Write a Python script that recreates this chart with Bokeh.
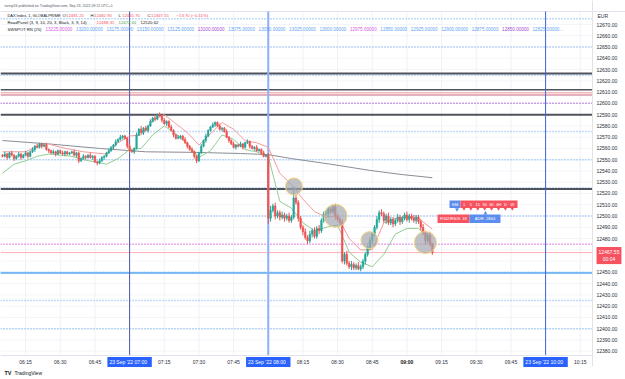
from bokeh.plotting import figure
from bokeh.models import (Range1d, FixedTicker, NumeralTickFormatter, Label, LinearAxis,
                          ColumnDataSource)
from bokeh.embed import file_html
from bokeh.resources import INLINE

# ---------------- data (1-minute DAX candles, minute index 0 = 06:05) ----------------
closes = [
    12553, 12555, 12552, 12556, 12554, 12551, 12553, 12555, 12552, 12554,
    12556, 12553, 12557, 12559, 12562, 12561, 12564, 12562, 12563, 12559,
    12558, 12556, 12557, 12555, 12558, 12556, 12555, 12557, 12555, 12556,
    12557, 12554, 12556, 12549, 12551, 12553, 12552, 12554, 12552, 12553,
    12548, 12547, 12549, 12552, 12553, 12556, 12558, 12561, 12563, 12566,
    12568, 12570, 12571, 12569, 12562, 12558, 12557, 12560, 12572, 12577,
    12574, 12578, 12576, 12580, 12584, 12587, 12586, 12590, 12589, 12585,
    12582, 12584, 12579, 12576, 12572, 12569, 12570, 12571, 12568, 12565,
    12562, 12559, 12557, 12553, 12549, 12556, 12562, 12567, 12571, 12576,
    12579, 12581, 12583, 12580, 12577, 12578, 12575, 12570, 12567, 12564,
    12561, 12563, 12562, 12564, 12561, 12565, 12566, 12562, 12560, 12561,
    12558, 12559, 12556, 12553, 12554, 12498, 12505, 12509, 12500, 12503,
    12499, 12501, 12498, 12500, 12496, 12499, 12516, 12512, 12498, 12490,
    12486, 12481, 12478, 12484, 12487, 12482, 12489, 12487, 12496, 12502,
    12502, 12506, 12504, 12508, 12500, 12497, 12494, 12460, 12466, 12458,
    12455, 12457, 12454, 12456, 12453, 12455, 12460, 12466, 12472, 12478,
    12484, 12490, 12497, 12503, 12502, 12496, 12500, 12494, 12497, 12493,
    12496, 12499, 12495, 12498, 12501, 12497, 12500, 12498, 12496, 12499,
    12495, 12490, 12485, 12478, 12483, 12475, 12467.55,
]
first_open = 12554
hi_ext = [
    1, 2, 1, 1, 2, 1, 1, 2, 1, 1,
    2, 1, 1, 2, 1, 2, 1, 1, 1, 2,
    1, 1, 2, 1, 1, 1, 2, 1, 1, 1,
    1, 2, 1, 1, 1, 2, 1, 1, 2, 1,
    1, 1, 2, 1, 1, 1, 2, 1, 1, 2,
    1, 2, 1, 1, 1, 2, 1, 1, 2, 1,
    3, 1, 2, 1, 2, 1, 2, 1, 2, 1,
    2, 1, 1, 2, 1, 1, 2, 1, 1, 2,
    1, 1, 2, 1, 1, 1, 2, 1, 2, 1,
    1, 2, 1, 1, 2, 1, 1, 2, 1, 1,
    2, 1, 1, 2, 1, 1, 2, 1, 1, 1,
    2, 1, 1, 2, 1, 2, 4, 2, 3, 2,
    2, 3, 2, 2, 3, 2, 10, 3, 2, 2,
    2, 3, 2, 3, 2, 3, 2, 3, 2, 2,
    3, 2, 2, 2, 3, 2, 2, 3, 2, 3,
    2, 3, 2, 2, 3, 2, 2, 2, 2, 3,
    2, 2, 3, 2, 3, 2, 2, 3, 2, 2,
    2, 3, 2, 2, 2, 3, 2, 2, 3, 2,
    2, 2, 3, 2, 2, 3, 1,
]
lo_ext = [
    1, 1, 2, 1, 1, 2, 1, 1, 2, 1,
    1, 2, 1, 1, 2, 1, 1, 2, 1, 1,
    2, 1, 1, 2, 1, 1, 1, 2, 1, 1,
    1, 1, 2, 2, 1, 1, 2, 1, 1, 2,
    1, 2, 1, 1, 2, 1, 1, 1, 2, 1,
    1, 1, 2, 1, 2, 1, 1, 2, 1, 1,
    1, 2, 1, 2, 1, 1, 2, 1, 1, 2,
    1, 2, 1, 1, 2, 1, 1, 2, 1, 1,
    2, 1, 1, 2, 2, 1, 1, 1, 2, 1,
    1, 1, 2, 1, 1, 2, 1, 1, 2, 1,
    1, 2, 1, 1, 2, 1, 1, 2, 1, 2,
    1, 1, 2, 1, 1, 5, 3, 2, 3, 2,
    3, 2, 3, 2, 2, 2, 2, 2, 3, 2,
    3, 2, 3, 2, 3, 2, 2, 3, 2, 2,
    2, 3, 2, 2, 3, 2, 2, 2, 3, 2,
    2, 3, 2, 2, 1, 2, 2, 3, 2, 2,
    3, 2, 2, 3, 2, 2, 3, 2, 2, 3,
    2, 2, 3, 2, 2, 2, 3, 2, 2, 3,
    2, 3, 2, 3, 2, 2, 2,
]

# RoadPanel lines (minute index, price)
ma_t = [0, 5, 10, 15, 20, 25, 30, 35, 40, 45, 50, 55, 60, 65, 70, 75, 80, 85, 90, 95,
        100, 105, 110, 115, 120, 125, 130, 135, 140, 145, 150, 155, 160, 165, 170, 175, 180, 185, 186]
ma_high = [12557, 12557, 12557, 12562, 12564, 12561, 12559, 12557, 12556, 12555, 12565, 12571, 12572,
           12585, 12590, 12582, 12574, 12563, 12573, 12583, 12577, 12567, 12565, 12561, 12538, 12528,
           12515, 12504, 12499, 12500, 12480, 12470, 12470, 12494, 12498, 12499, 12498, 12490, 12488.31]
ma_low = [12538, 12546, 12549, 12553, 12555, 12554, 12553, 12550, 12548, 12546, 12551, 12559, 12560,
          12572, 12580, 12573, 12564, 12552, 12558, 12572, 12568, 12559, 12557, 12553, 12513, 12507,
          12494, 12487, 12490, 12492, 12468, 12459, 12455, 12466, 12484, 12489, 12489, 12479, 12472.61]
slow_t = [0, 20, 42, 62, 83, 103, 115, 125, 142, 159, 172, 186]
slow_p = [12567, 12564, 12560, 12557, 12556.5, 12555.5, 12554.5, 12551, 12546, 12540.5, 12537, 12534]

# SWSPOT round-number levels (every 25 points)
swspot_levels = [13225, 13200, 13175, 13150, 13125, 13100, 13075, 13050, 13025, 13000,
                 12975, 12950, 12925, 12900, 12875, 12850, 12825]
rn_levels = [12675, 12650, 12625, 12600, 12575, 12550, 12525, 12500, 12475, 12450, 12425, 12400]
sr_levels = [12626.5, 12590, 12524]
zone_levels = [12612, 12609.5, 12607.5]
support_level = 12449.5
last_price = 12467.55

# highlighted circles
circle_t = [126.1, 144.1, 158.8, 183.0]
circle_p = [12526.2, 12500.2, 12478.6, 12476.5]
circle_d = [17, 23, 17, 22]

# dashboard texts
tf_cells = ["1", "5", "15", "30", "60", "4H", "D", "W"]
legend_ohlc = [("O", "12481.25"), ("H", "12482.90"), ("L", "12465.70"), ("C", "12467.55")]
legend_change = "\u221213.70 (\u22120.11%)"
roadpanel_vals = ["12488.31", "12472.61", "12520.62"]

# time axis
tick_idx = [10, 25, 40, 70, 85, 100, 130, 145, 160, 190, 205, 220, 250]
tick_lab = ["06:15", "06:30", "06:45", "07:15", "07:30", "07:45", "08:15", "08:30", "08:45",
            "09:15", "09:30", "09:45", "10:15"]
session_idx = [55, 115, 235]
session_lab = ["23 Sep '22   07:00", "23 Sep '22   08:00", "23 Sep '22   10:00"]
bold_idx, bold_lab = 175, "09:00"
price_ticks = list(range(12380, 12680, 10))

# ---------------- geometry (canvas pixels) ----------------
FONT = "Liberation Sans"
CW, CH = 625, 379
XPX0, XPPM = 2.0, 2.311       # pixel of index 0 / pixels per minute
YPX0, YPPP = 24.0, 1.1266     # pixel of 12670 / pixels per point
PANE_R, PANE_T, PANE_B = 592, 11, 355


def px2t(x):
    return (x - XPX0) / XPPM


def py2p(y):
    return 12670 - (y - YPX0) / YPPP


t_left, t_right = px2t(0), px2t(PANE_R)
p_top, p_bot = py2p(PANE_T), py2p(PANE_B)

p = figure(width=CW, height=CH, x_range=Range1d(px2t(0), px2t(CW)), y_range=Range1d(py2p(CH), py2p(0)),
           x_axis_location=None, y_axis_location=None, output_backend="svg", toolbar_location=None,
           min_border=0)
p.outline_line_color = None
p.background_fill_color = "white"
p.border_fill_color = "white"
p.grid.visible = False

# axes (pinned inside the canvas)
ya = LinearAxis(fixed_location=px2t(PANE_R), ticker=FixedTicker(ticks=price_ticks),
                formatter=NumeralTickFormatter(format="0.00"), bounds=(py2p(366), py2p(0)))
ya.major_label_text_font_size = "5px"
ya.major_label_text_font = FONT
ya.major_label_text_color = "#2a2e39"
ya.major_tick_line_color = None
ya.minor_tick_line_color = None
ya.major_tick_out = 0
ya.major_tick_in = 0
ya.major_label_standoff = 4
ya.axis_line_color = "#e0e3eb"
p.add_layout(ya, "right")

xa = LinearAxis(fixed_location=p_bot, ticker=FixedTicker(ticks=tick_idx), bounds=(t_left, t_right))
xa.major_label_overrides = {k: v for k, v in zip(tick_idx, tick_lab)}
xa.major_label_text_font_size = "5px"
xa.major_label_text_font = FONT
xa.major_label_text_color = "#2a2e39"
xa.major_tick_line_color = None
xa.minor_tick_line_color = None
xa.major_tick_out = 0
xa.major_tick_in = 0
xa.major_label_standoff = 3
xa.axis_line_color = "#e0e3eb"
p.add_layout(xa, "below")

# grid
vg = sorted(tick_idx + session_idx + [bold_idx])
p.segment(vg, [p_top] * len(vg), vg, [p_bot] * len(vg), line_color="#eef1f6", line_width=1)
p.segment([t_left] * len(price_ticks), price_ticks, [t_right] * len(price_ticks), price_ticks,
          line_color="#f3f5f9", line_width=1)
p.segment([px2t(0)], [p_top], [px2t(CW)], [p_top], line_color="#e0e3eb", line_width=1)


def hline(lvl, color, width=1.0, dash="solid", alpha=1.0):
    p.segment([t_left], [lvl], [t_right], [lvl], line_color=color, line_width=width,
              line_dash=dash, line_alpha=alpha)


def rn_color(lvl):
    d = 13225 - lvl
    if d % 250 == 0:
        return "#d65ce0"
    if d % 125 == 0:
        return "#a54cd0"
    return "#7fb6f2"


for lvl in rn_levels:
    hline(lvl, rn_color(lvl), 1.5, "1 2")
for lvl in sr_levels:
    hline(lvl, "#50535e", 2)
for lvl, col in zip(zone_levels, ["#50535e", "#f4b8bd", "#d99aa8"]):
    hline(lvl, col, 1.5)
hline(support_level, "#5aaaf2", 1.5)
hline(last_price, "#f7525f", 1, alpha=0.45)

# vertical session lines
for idx, col, w in zip(session_idx, ["#4b5aa8", "#8fb0f7", "#3f63d6"], [1, 2, 1]):
    p.segment([idx], [p_top], [idx], [p_bot], line_color=col, line_width=w)

# slow line and channel
p.line(slow_t, slow_p, line_color="#8a8d96", line_width=1)
p.line(ma_t, ma_high, line_color="#f59a9a", line_width=1)
p.line(ma_t, ma_low, line_color="#93cc93", line_width=1)

# candles
opens = [first_open] + closes[:-1]
t = list(range(len(closes)))
highs = [max(o, c) + h for o, c, h in zip(opens, closes, hi_ext)]
lows = [min(o, c) - l for o, c, l in zip(opens, closes, lo_ext)]
cols = ["#26a69a" if c >= o else "#ef5350" for o, c in zip(opens, closes)]
src = ColumnDataSource(dict(t=t, o=opens, c=closes, h=highs, l=lows, col=cols))
p.segment("t", "h", "t", "l", source=src, line_color="col", line_width=1)
p.vbar(x="t", top="o", bottom="c", width=0.7, source=src, fill_color="col", line_color="col",
       line_width=0.5)

# circles
p.scatter(circle_t, circle_p, size=circle_d, marker="circle", fill_color="#a4a7ae",
          fill_alpha=0.7, line_color="#f2d77a", line_width=1)


# ---------------- labels (canvas pixel positions) ----------------
def lab(x, y, text, color="#131722", size=4.3, align="left", bg=None, bold=False, pad=0):
    kw = {}
    if bg is not None:
        kw = dict(background_fill_color=bg, padding=pad)
    p.add_layout(Label(x=x, y=CH - y, x_units="screen", y_units="screen", text=text,
                       text_color=color, text_font=FONT, text_font_size=f"{size}px",
                       text_align=align, text_baseline="middle",
                       text_font_style="bold" if bold else "normal", **kw))


def box(x0, x1, y0, y1, color):
    p.quad(left=[px2t(x0)], right=[px2t(x1)], top=[py2p(y0)], bottom=[py2p(y1)],
           fill_color=color, line_color=None)


RED, GRN, DARK = "#f7525f", "#43a047", "#131722"
lab(4, 5, "turnip16 published on TradingView.com, Sep 23, 2022 09:11 UTC+1", "#50535e", 3.6)
lab(7, 15, "DAX Index, 1, GLOBALPRIME", DARK, 3.9)
for xx, (letter, val) in zip([62, 90, 118, 147], legend_ohlc):
    lab(xx, 15, letter, DARK)
    lab(xx + 3.5, 15, val, RED)
lab(176, 15, legend_change, RED)
lab(7, 21.5, "RoadPanel (3, 9, 10, 20, 3, Black, 3, 9, 14)", DARK, 4.2)
for xx, val, col in zip([96, 118, 140], roadpanel_vals, [RED, GRN, DARK]):
    lab(xx, 21.5, val, col)
lab(7, 28.5, "SWSPOT RN (25)", DARK, 4.2)
for k, lvl in enumerate(swspot_levels):
    txt = f"{lvl:.5f}" + ("\u2026" if k == len(swspot_levels) - 1 else "")
    col = {"#7fb6f2": "#5f9ff0"}.get(rn_color(lvl), rn_color(lvl))
    lab(45 + k * 30.44, 28.5, txt, col, 4.6)

# price axis extras
lab(597, 15, "EUR", "#2a2e39", 5)
lab(608.5, 255, "12467.55\n00:04", "white", 5, align="center", bg="#f7525f", pad=2)

# session boxes on time axis
for idx, txt in zip(session_idx, session_lab):
    lab(XPX0 + idx * XPPM, 361.5, txt, "white", 5, align="center", bg="#2962ff", pad=2)
lab(XPX0 + bold_idx * XPPM, 361.5, bold_lab, "#131722", 5, align="center", bold=True)

# on-chart dashboard boxes
box(449, 460, 200, 207.5, "#5b8def")
lab(454.5, 203.8, "SM", "white", 4.2, align="center")
box(460, 517, 200, 207.5, "#f7525f")
cell_x = [463.5 + 6.9 * k for k in range(len(tf_cells))]
for cx, txt in zip(cell_x, tf_cells):
    lab(cx, 203.8, txt, "white", 4.0, align="center")
p.scatter([px2t(cx) for cx in cell_x], [py2p(208.3)] * len(cell_x), marker="inverted_triangle",
          size=3.5, fill_color="#f7525f", line_color=None)
p.scatter([px2t(456.5)], [py2p(209)], marker="inverted_triangle", size=4,
          fill_color="#5b8def", line_color=None)
box(437, 469, 214, 222.5, "#f7525f")
lab(453, 218.3, "RSI2/RSI3: 18", "white", 4.2, align="center")
box(469, 500, 214, 222.5, "#5b8def")
lab(484.5, 218.3, "ADR: 2844", "white", 4.2, align="center")
p.scatter([px2t(485)], [py2p(212.8)], marker="triangle", size=4,
          fill_color="#5b8def", line_color=None)

# footer
lab(4, 372, "TV", "#131722", 5.5, bold=True)
lab(14, 372, "TradingView", "#131722", 5)

open("out.html", "w").write(file_html(p, INLINE))
